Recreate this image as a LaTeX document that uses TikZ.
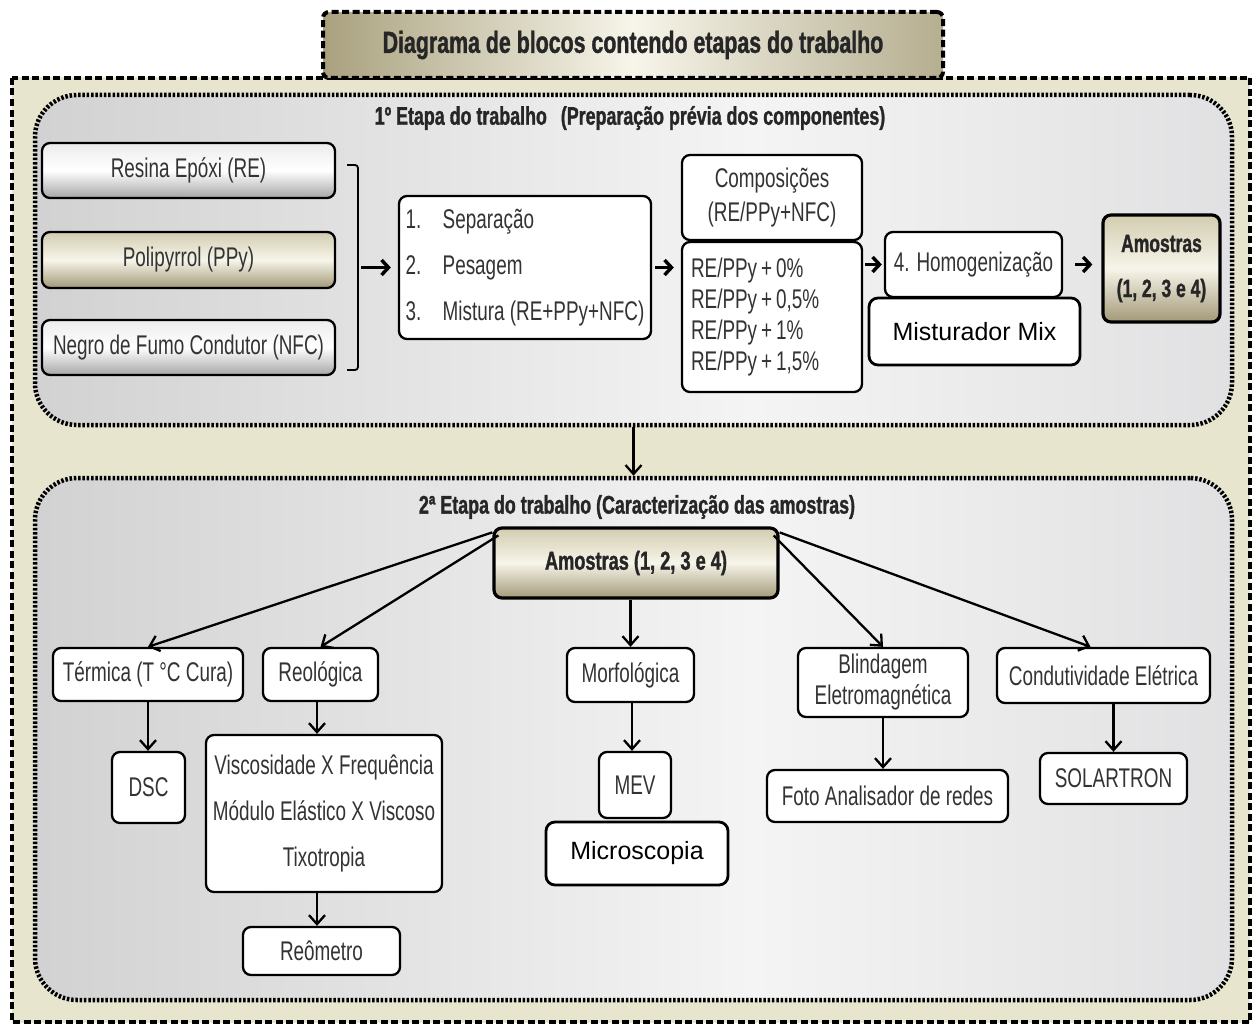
\documentclass[tikz,border=0pt]{standalone}
\usepackage{fontspec}
\setmainfont{Liberation Sans}
\newfontfamily\nf[FakeStretch=0.70]{Liberation Sans}
\newfontfamily\nfb[FakeStretch=0.70,FakeBold=1.2]{Liberation Sans Bold}
\newfontfamily\af{Liberation Sans}
\usetikzlibrary{arrows.meta}
\definecolor{khD}{HTML}{A39978}
\definecolor{khT}{HTML}{D2CCB0}
\definecolor{khM}{HTML}{F7F5EA}
\definecolor{outE}{HTML}{C6C09E}
\definecolor{outM}{HTML}{E8E5CF}
\definecolor{ttlL}{HTML}{A9A17E}
\definecolor{ttlR}{HTML}{B5AE90}
\definecolor{stL}{HTML}{9E9E9E}
\definecolor{stLm}{HTML}{CCCCCC}
\definecolor{stC}{HTML}{F4F4F4}
\definecolor{stRm}{HTML}{DCDCDE}
\definecolor{stR}{HTML}{9A9AA0}
\definecolor{txt}{HTML}{333333}
\pgfdeclarehorizontalshading{stageh}{100bp}{color(0bp)=(stL); color(20bp)=(stLm); color(55bp)=(stC); color(80bp)=(stRm); color(100bp)=(stR)}
\pgfdeclarehorizontalshading{outerh}{100bp}{color(0bp)=(outE); color(15bp)=(outM); color(85bp)=(outM); color(100bp)=(outE)}
\begin{document}
\begin{tikzpicture}[x=1pt,y=-1pt,
  box/.style={draw, line width=2.3pt, rounded corners=8pt, fill=white, align=center,
    inner sep=0pt, text=txt, font=\nf\fontsize{27}{31}\selectfont},
  graybox/.style={box, top color=gray!15, bottom color=gray!70, middle color=white},
  khakibox/.style={box, top color=khT, bottom color=khD, middle color=khM},
  plainbox/.style={draw, line width=2.8pt, rounded corners=9pt, fill=white, inner sep=0pt,
    text=black, font=\af\fontsize{25}{30}\selectfont},
  stagebox/.style={draw, line width=4.5pt, dash pattern=on 2.5pt off 1.8pt, rounded corners=42pt,
    shading=stageh, inner sep=0pt},
  stagetitle/.style={font=\nfb\fontsize{25.5}{30}\selectfont, text=black!85, inner sep=0pt},
  arr/.style={line width=2.3pt, -{Straight Barb[length=9pt,width=16pt,line width=2.3pt]}},
  bigarr/.style={line width=3.4pt, -{Straight Barb[length=7pt,width=15pt,line width=3.4pt]}}
]
\useasboundingbox (0,0) rectangle (1259,1025);
\fill[white] (0,0) rectangle (1259,1025);

% outer dashed frame
\path[draw, line width=4pt, dash pattern=on 7pt off 3.5pt, shading=outerh] (12,78) rectangle (1250,1022);

% title
\node[draw, line width=4pt, dash pattern=on 7pt off 3.5pt, rounded corners=6pt,
  left color=ttlL, right color=ttlR, middle color=khM,
  minimum width=620, minimum height=66, inner sep=0pt,
  font=\nfb\fontsize{30.5}{36}\selectfont, text=black!85] (title) at (633,45)
  {Diagrama de blocos contendo etapas do trabalho};

% stage 1
\node[stagebox, minimum width=1197, minimum height=330] (s1) at (633.5,260) {};
\node[stagetitle] (s1t) at (630,118) {1º Etapa do trabalho\hspace{14pt}(Preparação prévia dos componentes)};

\node[graybox, minimum width=293, minimum height=55] (re) at (188.5,170.5) {Resina Epóxi (RE)};
\node[khakibox, minimum width=293, minimum height=56] (ppy) at (188.5,260) {Polipyrrol (PPy)};
\node[graybox, minimum width=293, minimum height=55] (nfc) at (188.5,347.5) {Negro de Fumo Condutor (NFC)};

\draw[line width=1.8pt, rounded corners=3pt] (347,165) -- (358,165) -- (358,370) -- (347,370);
\coordinate (brk) at (358,267.5);

\node[box, minimum width=252, minimum height=143, align=left,
  font=\nf\fontsize{27}{46}\selectfont] (steps) at (525,267.5)
  {\makebox[37pt][l]{1.}Separação\\\makebox[37pt][l]{2.}Pesagem\\\makebox[37pt][l]{3.}Mistura (RE+PPy+NFC)};

\node[box, minimum width=180, minimum height=85, font=\nf\fontsize{27}{34}\selectfont] (comp) at (772,197.5)
  {Composições\\(RE/PPy+NFC)};
\node[box, minimum width=180, minimum height=150, text width=162, align=left,
  font=\nf\fontsize{27}{31}\selectfont] (complist) at (772,317)
  {RE/PPy\hspace{4pt}+\hspace{4pt}0\%\\RE/PPy\hspace{4pt}+\hspace{4pt}0,5\%\\RE/PPy\hspace{4pt}+\hspace{4pt}1\%\\RE/PPy\hspace{4pt}+\hspace{4pt}1,5\%};

\node[box, minimum width=177, minimum height=65] (homog) at (973.5,264.5) {4. Homogenização};
\node[plainbox, minimum width=211, minimum height=67] (mix) at (974.5,331.5) {Misturador Mix};

\node[khakibox, line width=3.2pt, minimum width=117, minimum height=107,
  font=\nfb\fontsize{25}{45}\selectfont, text=black!85] (am1) at (1161.5,268.5)
  {Amostras\\(1, 2, 3 e 4)};

\draw[bigarr, shorten <=3pt, shorten >=7pt] (brk) -- (steps.west);
\draw[bigarr, shorten <=3pt, shorten >=7pt] (steps.east) -- (steps.east -| complist.west);
\draw[bigarr, shorten <=2pt, shorten >=2pt] (complist.east |- homog) -- (homog.west);
\draw[bigarr, shorten <=12pt, shorten >=9pt] (homog.east) -- (homog.east -| am1.west);

% stage 2
\node[stagebox, minimum width=1197, minimum height=522] (s2) at (633.5,739) {};
\node[stagetitle] (s2t) at (637,507) {2ª Etapa do trabalho (Caracterização das amostras)};
\draw[arr] (s1.south) -- (s2.north);

\node[khakibox, line width=3.2pt, minimum width=284, minimum height=70,
  font=\nfb\fontsize{26}{31}\selectfont, text=black!85] (am2) at (636,563)
  {Amostras (1, 2, 3 e 4)};

\node[box, minimum width=190, minimum height=53] (term) at (148,674.5) {Térmica (T °C Cura)};
\node[box, minimum width=115, minimum height=53] (reol) at (320.5,674.5) {Reológica};
\node[box, minimum width=73, minimum height=71] (dsc) at (148.5,787.5) {DSC};
\node[box, minimum width=236, minimum height=157, font=\nf\fontsize{27}{46}\selectfont] (rheo) at (324,813.5)
  {Viscosidade X Frequência\\Módulo Elástico X Viscoso\\Tixotropia};
\node[box, minimum width=157, minimum height=48] (reom) at (321.5,951) {Reômetro};

\node[box, minimum width=127, minimum height=54] (morf) at (630.5,675) {Morfológica};
\node[box, minimum width=72, minimum height=66] (mev) at (635,785) {MEV};
\node[plainbox, minimum width=182, minimum height=63] (micro) at (637,853.5) {Microscopia};

\node[box, minimum width=170, minimum height=69, font=\nf\fontsize{27}{31}\selectfont] (blind) at (883,682.5)
  {Blindagem\\Eletromagnética};
\node[box, minimum width=241, minimum height=52] (foto) at (887.5,796) {Foto Analisador de redes};

\node[box, minimum width=213, minimum height=55] (cond) at (1103.5,675.5) {Condutividade Elétrica};
\node[box, minimum width=147, minimum height=51] (solar) at (1113.5,778.5) {SOLARTRON};

\draw[arr] ([yshift=-6pt]am2.north west) -- (term.north);
\draw[arr] ([xshift=6pt,yshift=-9pt]am2.north west) -- (reol.north);
\draw[arr] (am2.south -| morf) -- (morf.north);
\draw[arr] ([xshift=-6pt,yshift=-9pt]am2.north east) -- (blind.north);
\draw[arr] ([yshift=-6pt]am2.north east) -- ([xshift=-13pt]cond.north);

\draw[arr] (term.south) -- (term.south |- dsc.north);
\draw[arr] (reol.south -| 317,0) -- (rheo.north -| 317,0);
\draw[arr] (rheo.south -| 317,0) -- (reom.north -| 317,0);
\draw[arr] (morf.south -| 632,0) -- (mev.north -| 632,0);
\draw[arr] (blind.south) -- (blind.south |- foto.north);
\draw[arr] (solar |- cond.south) -- (solar.north);
\end{tikzpicture}
\end{document}
